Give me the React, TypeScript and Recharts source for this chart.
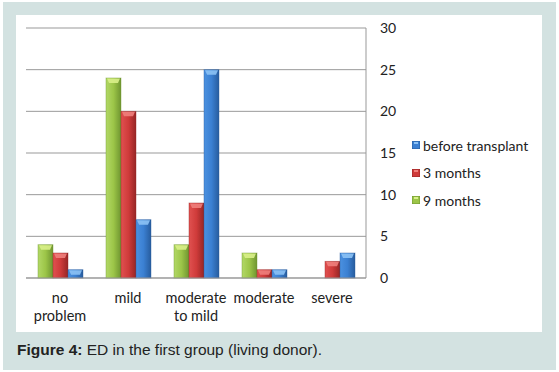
import React from "react";
import { BarChart, Bar, XAxis, YAxis, CartesianGrid } from "recharts";

const categories = ["no problem", "mild", "moderate to mild", "moderate", "severe"];
const tickLabels = ["no\nproblem", "mild", "moderate\nto mild", "moderate", "severe"];
const nineMonths = [4, 24, 4, 3, 0];
const threeMonths = [3, 20, 9, 1, 2];
const beforeTransplant = [1, 7, 25, 1, 3];
const yTicks = [0, 5, 10, 15, 20, 25, 30];

const data = categories.map((c, i) => ({
  name: c,
  label: tickLabels[i],
  nine: nineMonths[i],
  three: threeMonths[i],
  before: beforeTransplant[i],
}));

const palette: Record<string, { main: string; dark: string; light: string; cap: string }> = {
  green: { main: "#9cc548", dark: "#6f9530", light: "#b2d866", cap: "#d9f08a" },
  red: { main: "#cf3b3a", dark: "#962625", light: "#e05150", cap: "#f0807c" },
  blue: { main: "#3b80d2", dark: "#275c9e", light: "#4b91e0", cap: "#8cc2f5" },
};

const FONT = "Lato, 'Open Sans', sans-serif";

const makeShape = (key: string) => (props: any) => {
  const { x, y, width, height } = props;
  if (!height || height <= 0) return <g />;
  const capH = Math.min(5, height);
  return (
    <g>
      <rect x={x} y={y} width={width} height={height} fill={`url(#grad-${key})`} />
      <rect x={x} y={y} width={width} height={height} fill="none" stroke={palette[key].dark} strokeOpacity={0.5} strokeWidth={0.8} />
      <polygon
        points={`${x + 1},${y + 0.5} ${x + width - 1},${y + 0.5} ${x + width - 3},${y + capH} ${x + 3},${y + capH}`}
        fill={palette[key].cap}
        opacity={0.9}
      />
    </g>
  );
};

const XTick = (props: any) => {
  const { x, y, payload } = props;
  const idx = categories.indexOf(payload.value);
  const lines = (idx >= 0 ? tickLabels[idx] : String(payload.value)).split("\n");
  return (
    <text x={x} y={y + 17} textAnchor="middle" fill="#222" fontSize={14.5} fontFamily={FONT}>
      {lines.map((l, i) => (
        <tspan key={i} x={x} dy={i === 0 ? 0 : 18}>
          {l}
        </tspan>
      ))}
    </text>
  );
};

const LegendMarker = ({ k }: { k: string }) => (
  <svg width={8} height={8} style={{ marginRight: 3 }}>
    <rect x={0} y={0} width={8} height={8} fill={`${palette[k].main}`} stroke={palette[k].dark} strokeWidth={1} />
    <rect x={2} y={1} width={4} height={2} fill={palette[k].cap} />
  </svg>
);

const legendItems = [
  { k: "blue", label: "before transplant" },
  { k: "red", label: "3 months" },
  { k: "green", label: "9 months" },
];

export default function App() {
  return (
    <div style={{ position: "absolute", left: 0, top: 0, width: 559, height: 372, background: "#fff" }}>
      <div style={{ position: "absolute", left: 3, top: 2, width: 553, height: 368, background: "#d3e2e1" }} />
      <div style={{ position: "absolute", left: 16, top: 15, width: 526, height: 317, background: "#ffffff" }} />
      <div style={{ position: "absolute", left: 0, top: 0 }}>
        <BarChart
          width={559}
          height={372}
          data={data}
          margin={{ top: 28, right: 153, left: 26, bottom: 64 }}
          barGap={0}
          barSize={15}
        >
          <defs>
            {Object.keys(palette).map((k) => (
              <linearGradient key={k} id={`grad-${k}`} x1="0" y1="0" x2="1" y2="0">
                <stop offset="0%" stopColor={palette[k].light} />
                <stop offset="50%" stopColor={palette[k].main} />
                <stop offset="100%" stopColor={palette[k].dark} />
              </linearGradient>
            ))}
          </defs>
          <CartesianGrid vertical={false} stroke="#999" strokeWidth={1} />
          <XAxis
            dataKey="name"
            tick={<XTick />}
            tickLine={false}
            axisLine={{ stroke: "#999" }}
            interval={0}
            height={30}
          />
          <YAxis
            orientation="right"
            domain={[0, 30]}
            ticks={yTicks}
            tickLine={false}
            axisLine={{ stroke: "#999" }}
            tickSize={6}
            tickMargin={8}
            width={40}
            tick={{ fill: "#222", fontSize: 14, fontFamily: FONT, textAnchor: "start" }}
          />
          <Bar dataKey="nine" name="9 months" fill={palette.green.main} shape={makeShape("green")} isAnimationActive={false} />
          <Bar dataKey="three" name="3 months" fill={palette.red.main} shape={makeShape("red")} isAnimationActive={false} />
          <Bar dataKey="before" name="before transplant" fill={palette.blue.main} shape={makeShape("blue")} isAnimationActive={false} />
        </BarChart>
      </div>
      <div style={{ position: "absolute", left: 412, top: 136, fontFamily: FONT, fontSize: 14, color: "#222" }}>
        {legendItems.map((it, i) => (
          <div key={it.k} style={{ display: "flex", alignItems: "center", height: 18, marginBottom: i < 2 ? 9.5 : 0 }}>
            <LegendMarker k={it.k} />
            <span>{it.label}</span>
          </div>
        ))}
      </div>
      <div style={{ position: "absolute", left: 17, top: 341, fontFamily: "'Liberation Sans', Arial, sans-serif", fontSize: 15.5, color: "#222", whiteSpace: "nowrap" }}>
        <b>Figure 4:</b> ED in the first group (living donor).
      </div>
    </div>
  );
}
